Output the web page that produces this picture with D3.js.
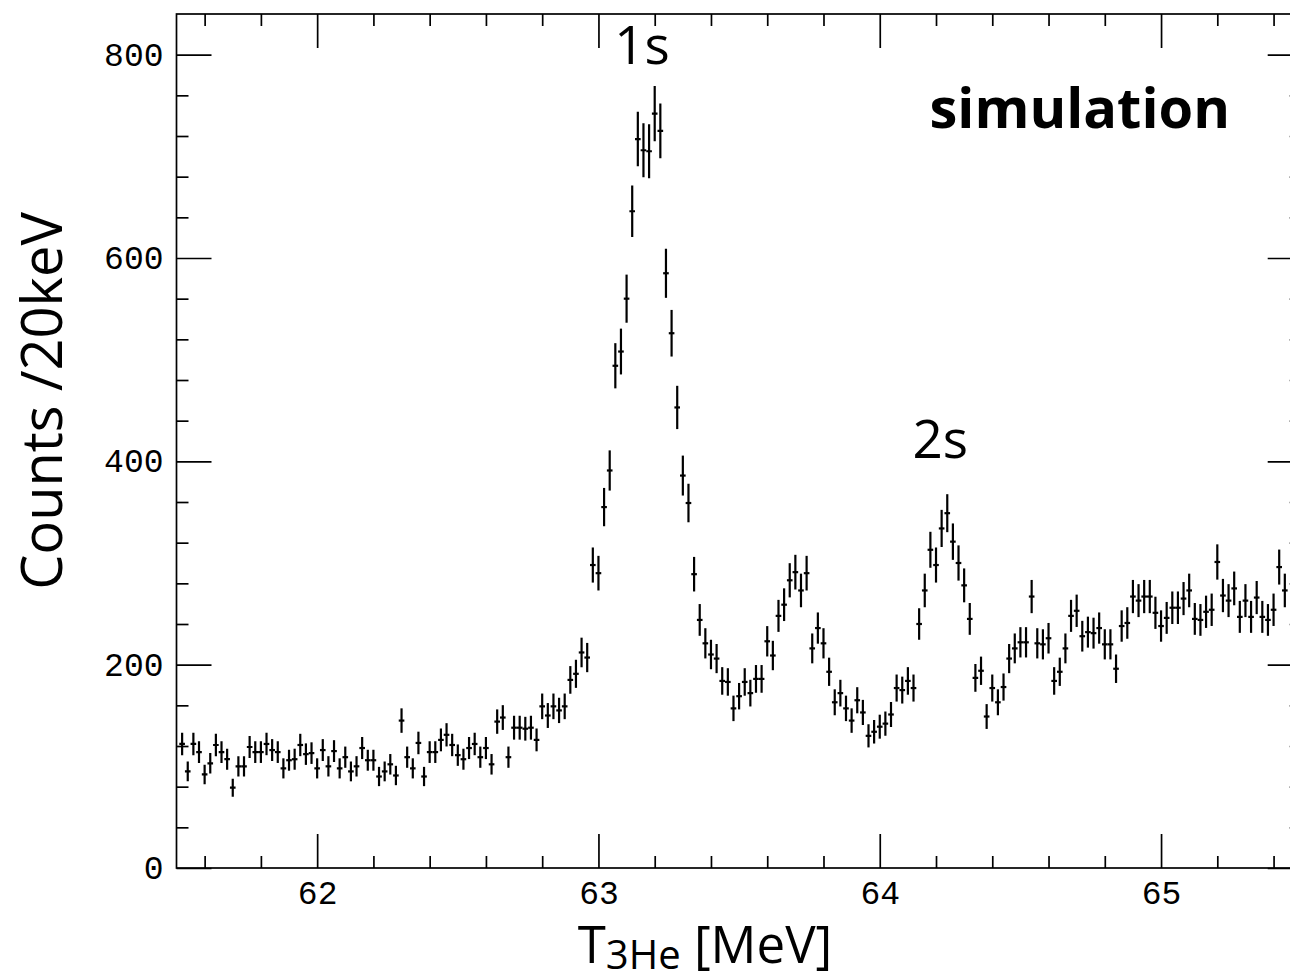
<!DOCTYPE html>
<html>
<head>
<meta charset="utf-8">
<script src="https://cdn.jsdelivr.net/npm/d3@7"></script>
<style>
  html, body { margin: 0; padding: 0; background: #fff; overflow: hidden; }
  svg { display: block; }
</style>
</head>
<body>
<svg id="chart" width="1290" height="980"></svg>
<script>
// Simulated 3He kinetic-energy spectrum, histogrammed in 20 keV bins.
const binFirstCenter = 61.52;   // MeV, centre of the first bin shown
const binWidth = 0.02;          // MeV
const counts = [
  122, 95, 122, 114, 92, 103, 121, 114, 107, 79,
  100, 100, 119, 114, 114, 122, 116, 114, 98, 106,
  107, 121, 112, 113, 98, 116, 100, 115, 98, 109,
  95, 100, 118, 106, 106, 90, 95, 102, 91, 145,
  109, 98, 123, 90, 114, 114, 126, 131, 121, 111,
  107, 118, 122, 109, 118, 102, 144, 148, 109, 138,
  138, 137, 138, 126, 159, 150, 159, 155, 159, 185,
  191, 212, 207, 298, 290, 355, 391, 494, 508, 560,
  646, 717, 706, 705, 742, 725, 585, 526, 453, 386,
  359, 289, 244, 221, 210, 206, 184, 183, 157, 169,
  183, 172, 186, 186, 223, 209, 248, 259, 283, 291,
  273, 290, 216, 236, 221, 193, 163, 172, 157, 145,
  165, 153, 130, 134, 139, 142, 151, 177, 175, 184,
  177, 240, 273, 313, 298, 334, 349, 321, 300, 278,
  245, 187, 194, 149, 177, 163, 178, 206, 216, 222,
  222, 267, 221, 220, 226, 184, 193, 216, 248, 253,
  228, 232, 231, 236, 220, 220, 196, 238, 241, 267,
  263, 267, 267, 251, 238, 246, 256, 256, 265, 273,
  245, 244, 252, 254, 301, 268, 263, 275, 247, 263,
  247, 266, 247, 244, 254, 296, 273
];

const xDomain = [61.5, 65.5];
const yDomain = [0, 840];
const xMajorTicks = [62, 63, 64, 65];
const xMinorTicks = [61.6, 61.8, 62.2, 62.4, 62.6, 62.8, 63.2, 63.4, 63.6, 63.8,
                     64.2, 64.4, 64.6, 64.8, 65.2, 65.4];
const yMajorTicks = [0, 200, 400, 600, 800];
const yMinorTicks = [40, 80, 120, 160, 240, 280, 320, 360, 440, 480, 520, 560,
                     640, 680, 720, 760];

// Peak annotations, anchored in data coordinates (energy, counts)
const peakNames = ["1s", "2s"];
const peakEnergies = [63.155, 64.215];
const peakCounts = [791, 403];

const svg = d3.select("#chart");
const plot = { left: 176.5, right: 1301.7, top: 14, bottom: 868 };

const x = d3.scaleLinear().domain(xDomain).range([plot.left, plot.right]);
const y = d3.scaleLinear().domain(yDomain).range([plot.bottom, plot.top]);

const tickFont = "'Liberation Mono', 'DejaVu Sans Mono', monospace";
const labelFont = "'Open Sans', 'Noto Sans', sans-serif";

svg.append("clipPath").attr("id", "plotClip")
  .append("rect")
  .attr("x", plot.left).attr("y", plot.top)
  .attr("width", plot.right - plot.left).attr("height", plot.bottom - plot.top);

// ---- axes: ticks point inward on all four sides ----
function styleAxis(g) {
  g.select(".domain").remove();
  g.selectAll(".tick line").attr("stroke", "#000").attr("stroke-width", 1.7);
  g.selectAll(".tick text")
    .attr("fill", "#000")
    .style("font-family", tickFont)
    .style("font-size", "33px");
}

svg.append("g").attr("transform", `translate(0,${plot.bottom})`)
  .call(d3.axisBottom(x).tickValues(xMajorTicks).tickSize(-34).tickPadding(13)
    .tickFormat(d3.format("d")))
  .call(styleAxis);
svg.append("g").attr("transform", `translate(0,${plot.bottom})`)
  .call(d3.axisBottom(x).tickValues(xMinorTicks).tickSize(-12).tickFormat(""))
  .call(styleAxis);
svg.append("g").attr("transform", `translate(0,${plot.top})`)
  .call(d3.axisTop(x).tickValues(xMajorTicks).tickSize(-34).tickFormat(""))
  .call(styleAxis);
svg.append("g").attr("transform", `translate(0,${plot.top})`)
  .call(d3.axisTop(x).tickValues(xMinorTicks).tickSize(-12).tickFormat(""))
  .call(styleAxis);

svg.append("g").attr("transform", `translate(${plot.left},0)`)
  .call(d3.axisLeft(y).tickValues(yMajorTicks).tickSize(-35).tickPadding(13)
    .tickFormat(d3.format("d")))
  .call(styleAxis);
svg.append("g").attr("transform", `translate(${plot.left},0)`)
  .call(d3.axisLeft(y).tickValues(yMinorTicks).tickSize(-12).tickFormat(""))
  .call(styleAxis);
svg.append("g").attr("transform", `translate(${plot.right},0)`)
  .call(d3.axisRight(y).tickValues(yMajorTicks).tickSize(-34).tickFormat(""))
  .call(styleAxis);
svg.append("g").attr("transform", `translate(${plot.right},0)`)
  .call(d3.axisRight(y).tickValues(yMinorTicks).tickSize(-12).tickFormat(""))
  .call(styleAxis);

// frame
svg.append("rect")
  .attr("x", plot.left).attr("y", plot.top)
  .attr("width", plot.right - plot.left).attr("height", plot.bottom - plot.top)
  .attr("fill", "none").attr("stroke", "#000").attr("stroke-width", 1.7);

// ---- histogram points with statistical error bars ----
const bins = counts.map((n, i) => ({ e: binFirstCenter + i * binWidth, n }));
const marks = svg.append("g").attr("clip-path", "url(#plotClip)")
  .attr("stroke", "#000").attr("stroke-width", 2.2);

marks.selectAll("line.h").data(bins).join("line").attr("class", "h")
  .attr("x1", d => x(d.e - binWidth / 2)).attr("x2", d => x(d.e + binWidth / 2))
  .attr("y1", d => y(d.n)).attr("y2", d => y(d.n));
marks.selectAll("line.v").data(bins).join("line").attr("class", "v")
  .attr("x1", d => x(d.e)).attr("x2", d => x(d.e))
  .attr("y1", d => y(d.n - Math.sqrt(d.n))).attr("y2", d => y(d.n + Math.sqrt(d.n)));

// ---- annotations ----
peakNames.forEach((name, i) => {
  svg.append("text")
    .attr("x", x(peakEnergies[i])).attr("y", y(peakCounts[i]))
    .attr("text-anchor", "middle")
    .style("font-family", labelFont).style("font-size", "53px")
    .text(name);
});

svg.append("text")
  .attr("x", 1230).attr("y", 128)
  .attr("text-anchor", "end")
  .style("font-family", labelFont).style("font-size", "56px").style("font-weight", "700")
  .text("simulation");

// axis titles
svg.append("text")
  .attr("transform", `translate(62,401) rotate(-90)`)
  .attr("text-anchor", "middle")
  .style("font-family", labelFont).style("font-size", "56px")
  .text("Counts /20keV");

const xTitle = svg.append("text")
  .attr("x", 705).attr("y", 963)
  .attr("text-anchor", "middle")
  .style("font-family", labelFont).style("font-size", "51px");
xTitle.append("tspan").text("T");
xTitle.append("tspan").attr("dy", 6).style("font-size", "40px").text("3He");
xTitle.append("tspan").attr("dy", -6).text(" [MeV]");
</script>
</body>
</html>
